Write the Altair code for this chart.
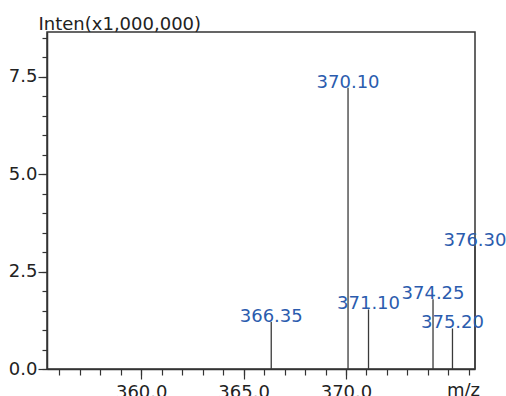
import altair as alt
import pandas as pd

# Peak list of the mass spectrum (intensity in units of 1,000,000)
mz = [366.35, 370.10, 371.10, 374.25, 375.20, 376.30]
intensity = [1.21, 7.22, 1.53, 1.79, 1.04, 3.15]
peak_labels = ["366.35", "370.10", "371.10", "374.25", "375.20", "376.30"]

x_major = [360.0, 365.0, 370.0]
x_minor = [float(v) for v in range(356, 377)]
y_major = [0.0, 2.5, 5.0, 7.5]
y_minor = [v * 0.5 for v in range(0, 18)]

x_domain = [355.4, 376.3]
y_domain = [0, 8.65]

df = pd.DataFrame({"mz": mz, "inten": intensity, "label": peak_labels, "base": 0.0})

FONT = "DejaVu Sans"
FSIZE = 18
AXIS_COLOR = "#333333"
TEXT_COLOR = "#222222"

x_scale = alt.Scale(domain=x_domain, nice=False, zero=False)
y_scale = alt.Scale(domain=y_domain, nice=False)

major_x_axis = alt.Axis(
    orient="bottom", values=x_major, format=".1f", grid=False,
    tickSize=10, tickColor=AXIS_COLOR, tickWidth=1.2,
    domainColor=AXIS_COLOR, domainWidth=1.5,
    labelFont=FONT, labelFontSize=FSIZE, labelColor=TEXT_COLOR, labelPadding=4,
    title="m/z", titleFont=FONT, titleFontSize=FSIZE, titleFontWeight="normal",
    titleColor=TEXT_COLOR, titleAngle=0, titleAlign="center", titleBaseline="alphabetic",
    titleX=416, titleY=26,
)
major_y_axis = alt.Axis(
    orient="left", values=y_major, format=".1f", grid=False,
    tickSize=9, tickColor=AXIS_COLOR, tickWidth=1.2,
    domainColor=AXIS_COLOR, domainWidth=1.5,
    labelFont=FONT, labelFontSize=FSIZE, labelColor=TEXT_COLOR, labelPadding=1,
    title="Inten(x1,000,000)", titleFont=FONT, titleFontSize=FSIZE, titleFontWeight="normal",
    titleColor=TEXT_COLOR, titleAngle=0, titleAlign="left", titleBaseline="alphabetic",
    titleX=-9, titleY=-3,
)
minor_x_axis = alt.Axis(
    orient="bottom", values=x_minor, labels=False, grid=False, domain=False,
    tickSize=6, tickColor=AXIS_COLOR, tickWidth=1.2, title=None,
)
minor_y_axis = alt.Axis(
    orient="left", values=y_minor, labels=False, grid=False, domain=False,
    tickSize=5, tickColor=AXIS_COLOR, tickWidth=1.2, title=None,
)

# Peak sticks
sticks = alt.Chart(df).mark_rule(color="#3a3a3a", strokeWidth=1.3).encode(
    x=alt.X("mz:Q", scale=x_scale, axis=major_x_axis),
    y=alt.Y("inten:Q", scale=y_scale, axis=major_y_axis),
    y2="base:Q",
)

# Minor tick marks carried by an invisible layer
minor = alt.Chart(df).mark_point(opacity=0).encode(
    x=alt.X("mz:Q", scale=x_scale, axis=minor_x_axis),
    y=alt.Y("inten:Q", scale=y_scale, axis=minor_y_axis),
)

# m/z annotations sitting on top of each peak
labels = alt.Chart(df).mark_text(
    font=FONT, fontSize=FSIZE, color="#2b5cae", align="center", baseline="alphabetic", dy=0,
).encode(
    x=alt.X("mz:Q", scale=x_scale, axis=None),
    y=alt.Y("inten:Q", scale=y_scale, axis=None),
    text="label:N",
)

chart = (
    alt.layer(minor, sticks, labels)
    .resolve_axis(x="independent", y="independent")
    .properties(
        width=428, height=337,
        autosize=alt.AutoSizeParams(type="none"),
        padding={"left": 47, "top": 32, "right": 31, "bottom": 27},
        background="white",
    )
    .configure_view(stroke=AXIS_COLOR, strokeWidth=1.5)
)

chart.save("out.html", embed_options={"renderer": "svg", "actions": False})
